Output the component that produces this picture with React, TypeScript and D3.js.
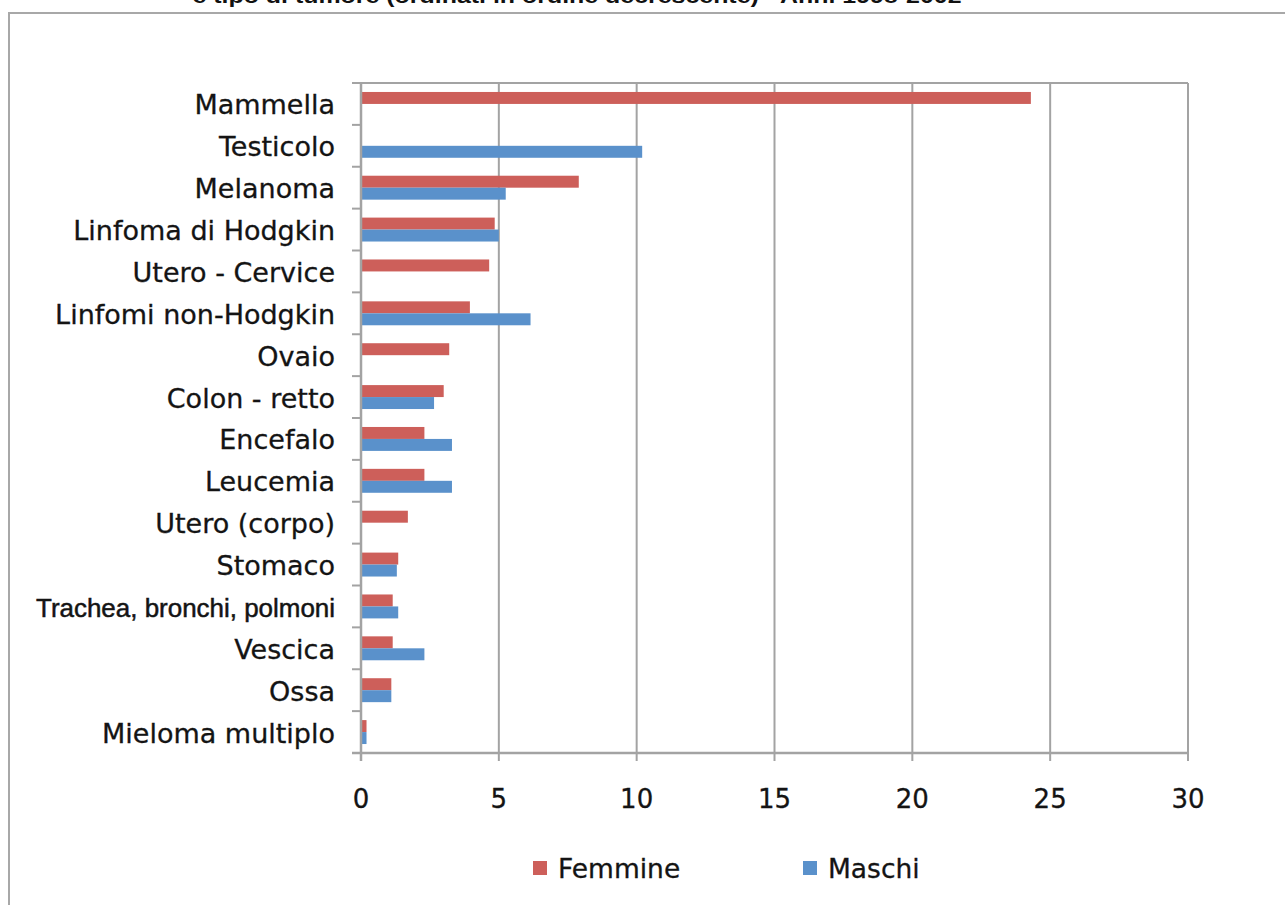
import React from "react";
import * as d3 from "d3";

const categories = [
  "Mammella",
  "Testicolo",
  "Melanoma",
  "Linfoma di Hodgkin",
  "Utero - Cervice",
  "Linfomi non-Hodgkin",
  "Ovaio",
  "Colon - retto",
  "Encefalo",
  "Leucemia",
  "Utero (corpo)",
  "Stomaco",
  "Trachea, bronchi, polmoni",
  "Vescica",
  "Ossa",
  "Mieloma multiplo",
];
const femmine: (number | null)[] = [24.3, null, 7.9, 4.85, 4.65, 3.95, 3.2, 3.0, 2.3, 2.3, 1.7, 1.35, 1.15, 1.15, 1.1, 0.2];
const maschi: (number | null)[] = [null, 10.2, 5.25, 5.0, null, 6.15, null, 2.65, 3.3, 3.3, null, 1.3, 1.35, 2.3, 1.1, 0.2];
const seriesNames = ["Femmine", "Maschi"];
const seriesColors = ["#cd5f5a", "#5a91cb"];
const xTicks = [0, 5, 10, 15, 20, 25, 30];
const titleText = "e tipo di tumore (ordinati in ordine decrescente) - Anni 1998-2002";

export default function App() {
  const W = 1285, H = 905;
  const x = d3.scaleLinear().domain([0, 30]).range([361, 1188]);
  const y = d3.scaleBand<string>().domain(categories).range([83, 753]).paddingInner(0).paddingOuter(0);
  const yi = d3.scaleBand<string>().domain(seriesNames).range([0, y.bandwidth()]).paddingInner(0).paddingOuter(0.75);
  const series = [femmine, maschi];
  const grid = "#a3a3a3";
  const font = "'DejaVu Sans', Verdana, sans-serif";
  const boundaries = d3.range(categories.length + 1).map((i) => 83 + i * y.step());
  const ink = "#141414";

  return (
    <svg width={W} height={H} style={{ position: "absolute", left: 0, top: 0, background: "#fff" }}>
      <text x={577} y={3} textAnchor="middle" fontFamily="'Liberation Sans', Arial, sans-serif" fontWeight="bold" fontSize={21} textLength={769} lengthAdjust="spacingAndGlyphs" fill="#111">
        {titleText}
      </text>
      <rect x={9} y={13} width={1300} height={920} fill="none" stroke="#a8a8a8" strokeWidth={2} />
      {xTicks.slice(1).map((t) => (
        <line key={"g" + t} x1={x(t)} x2={x(t)} y1={83} y2={761} stroke={grid} strokeWidth={2} />
      ))}
      <line x1={361} x2={1188} y1={83} y2={83} stroke={grid} strokeWidth={2} />
      {series.map((s, si) =>
        s.map((v, i) =>
          v == null ? null : (
            <rect
              key={si + "-" + i}
              x={x(0)}
              y={(y(categories[i]) as number) + (yi(seriesNames[si]) as number)}
              width={x(v) - x(0)}
              height={yi.bandwidth()}
              fill={seriesColors[si]}
            />
          )
        )
      )}
      <line x1={361} x2={361} y1={82} y2={761} stroke={grid} strokeWidth={2.5} />
      <line x1={352} x2={1189} y1={753} y2={753} stroke={grid} strokeWidth={2.5} />
      {boundaries.map((b, i) => (
        <line key={"t" + i} x1={352} x2={361} y1={b} y2={b} stroke={grid} strokeWidth={2} />
      ))}
      {xTicks.map((t) => (
        <text key={"xl" + t} x={x(t)} y={808} textAnchor="middle" fontFamily={font} fontSize={26} fill={ink} stroke={ink} strokeWidth={0.3}>
          {t}
        </text>
      ))}
      {categories.map((c) => {
        const cy = (y(c) as number) + y.bandwidth() / 2 + 10.5;
        if (c === "Trachea, bronchi, polmoni") {
          return (
            <text key={c} x={36} y={cy} fontFamily="'Liberation Sans', Arial, sans-serif" fontSize={25.5} textLength={299} lengthAdjust="spacingAndGlyphs" fill={ink} stroke={ink} strokeWidth={0.5}>
              {c}
            </text>
          );
        }
        return (
          <text key={c} x={335} y={cy} textAnchor="end" fontFamily={font} fontSize={27} fill={ink} stroke={ink} strokeWidth={0.3}>
            {c}
          </text>
        );
      })}
      {seriesNames.map((n, i) => {
        const lx = i === 0 ? 533 : 803;
        return (
          <g key={n}>
            <rect x={lx} y={861} width={14} height={14} fill={seriesColors[i]} />
            <text x={lx + 25} y={878} fontFamily={font} fontSize={26.5} fill={ink} stroke={ink} strokeWidth={0.3}>
              {n}
            </text>
          </g>
        );
      })}
    </svg>
  );
}
